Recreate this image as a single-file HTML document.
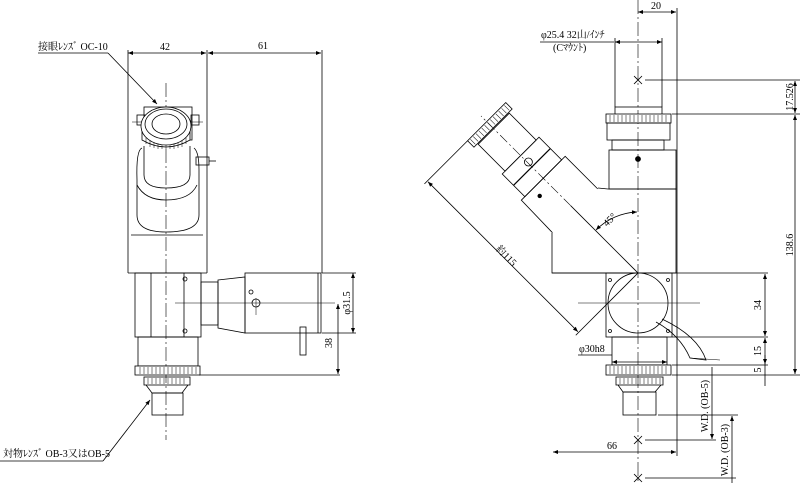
<!DOCTYPE html>
<html><head><meta charset="utf-8"><style>
html,body{margin:0;padding:0;background:#fff;}
svg{display:block;}
text{font-family:"Liberation Serif","Noto Serif CJK JP",serif;font-size:10px;fill:#000;}
</style></head><body>
<svg width="800" height="483" viewBox="0 0 800 483" xmlns="http://www.w3.org/2000/svg">
<defs>
<marker id="a" viewBox="0 0 10 10" refX="10" refY="5" markerWidth="7" markerHeight="5" orient="auto-start-reverse" markerUnits="userSpaceOnUse"><path d="M0,1 L10,5 L0,9 z" fill="#000"/></marker>
</defs>
<g stroke="#000" stroke-width="0.8" fill="none">
<!-- ===== LEFT VIEW ===== -->
<line x1="128" y1="50" x2="128" y2="273"/>
<line x1="207" y1="50" x2="207" y2="273"/>
<line x1="322" y1="50" x2="322" y2="273"/>
<line x1="128" y1="53" x2="206" y2="53" marker-start="url(#a)" marker-end="url(#a)"/>
<line x1="208" y1="53" x2="321" y2="53" marker-start="url(#a)" marker-end="url(#a)"/>
<line x1="128" y1="273" x2="207" y2="273"/>
<line x1="166" y1="83" x2="166" y2="440" stroke-dasharray="14 3 2 3" stroke-width="0.6"/>
<!-- eyepiece -->
<path d="M137,180 Q136,150 142,148"/>
<path d="M194,148 Q199,152 199,170 L199,215 Q199,232 166,232 Q137,232 137,215 L137,180"/>
<path d="M137,185 Q145,200 166,200 Q190,200 197,185"/>
<path d="M144,146 L144,175 Q144,188 166,188 Q190,188 190,175 L190,146"/>
<rect x="144" y="107" width="48" height="33"/>
<rect x="137" y="115" width="8" height="10"/>
<rect x="191" y="115" width="8" height="10"/>
<line x1="132" y1="122" x2="203" y2="122" stroke-width="0.5"/>
<path d="M142,130 L142,140 Q166,154 190,140 L190,130" fill="#fff"/>
<g stroke-width="0.5"><path d="M146,138 v6 M150,140 v7 M154,141 v7 M158,142 v7 M162,142 v7 M166,142 v7 M170,142 v7 M174,142 v7 M178,141 v7 M182,140 v7 M186,138 v6"/></g>
<ellipse cx="166" cy="126" rx="25" ry="19" fill="#fff"/>
<ellipse cx="166" cy="124" rx="21" ry="15"/>
<ellipse cx="166" cy="124" rx="14" ry="10"/>
<rect x="196" y="157" width="13" height="8"/>
<line x1="209" y1="161" x2="216" y2="161"/>
<line x1="131" y1="235" x2="203" y2="235"/>
<!-- lower block -->
<rect x="135" y="273" width="66" height="64"/>
<line x1="151" y1="273" x2="151" y2="337"/>
<line x1="184" y1="273" x2="184" y2="337"/>
<circle cx="185" cy="279" r="2"/><circle cx="185" cy="331" r="2"/>
<!-- side tube -->
<rect x="201" y="282" width="17" height="43"/>
<path d="M218,280 L245,277 L245,333 L218,328 Z"/>
<rect x="245" y="273" width="76" height="60"/>
<line x1="318" y1="273" x2="318" y2="333"/>
<circle cx="256" cy="303" r="4"/>
<circle cx="251" cy="292" r="2"/>
<line x1="175" y1="303" x2="335" y2="303" stroke-width="0.6"/>
<line x1="256" y1="298" x2="256" y2="315" stroke-width="0.5"/>
<rect x="300" y="327" width="6" height="28"/>
<line x1="353" y1="273" x2="353" y2="333" marker-start="url(#a)" marker-end="url(#a)"/>
<line x1="322" y1="273" x2="356" y2="273"/>
<line x1="322" y1="333" x2="356" y2="333"/>
<line x1="338" y1="304" x2="338" y2="374" marker-start="url(#a)" marker-end="url(#a)"/>
<line x1="199" y1="375" x2="340" y2="375"/>
<!-- lower tube -->
<rect x="138" y="337" width="60" height="29"/>
<rect x="135" y="366" width="65" height="9" fill="#fff"/>
<path d="M140,367 v7 M144,367 v7 M148,367 v7 M152,367 v7 M156,367 v7 M160,367 v7 M164,367 v7 M168,367 v7 M172,367 v7 M176,367 v7 M180,367 v7 M184,367 v7 M188,367 v7 M192,367 v7 M196,367 v7" stroke-width="0.5"/>
<rect x="144" y="377" width="46" height="8"/>
<path d="M148,378 v6 M152,378 v6 M156,378 v6 M160,378 v6 M164,378 v6 M168,378 v6 M172,378 v6 M176,378 v6 M180,378 v6 M184,378 v6" stroke-width="0.5"/>
<path d="M146,385 L152,393 L182,393 L188,385"/>
<rect x="152" y="393" width="31" height="22"/>
<!-- leaders -->
<line x1="38" y1="53" x2="108" y2="53"/>
<line x1="108" y1="53" x2="157" y2="104" marker-end="url(#a)"/>
<line x1="0" y1="461" x2="103" y2="461"/>
<line x1="103" y1="461" x2="150" y2="400" marker-end="url(#a)"/>

<!-- ===== RIGHT VIEW ===== -->
<line x1="638" y1="0" x2="638" y2="483" stroke-dasharray="14 3 2 3" stroke-width="0.6"/>
<line x1="677" y1="8" x2="677" y2="456"/>
<line x1="638" y1="12" x2="676" y2="12" marker-start="url(#a)" marker-end="url(#a)"/>
<line x1="540" y1="42" x2="614" y2="42"/>
<line x1="615" y1="42" x2="662" y2="42" marker-start="url(#a)" marker-end="url(#a)"/>
<line x1="615" y1="38" x2="615" y2="107"/>
<line x1="662" y1="38" x2="662" y2="107"/>
<path d="M634,76 l8,8 M642,76 l-8,8 M634,436 l8,8 M642,436 l-8,8 M634,474 l8,8 M642,474 l-8,8"/>
<line x1="645" y1="80" x2="800" y2="80"/>
<line x1="795" y1="81" x2="795" y2="113" marker-start="url(#a)" marker-end="url(#a)"/>
<line x1="795" y1="115" x2="795" y2="374" marker-start="url(#a)" marker-end="url(#a)"/>
<line x1="672" y1="114" x2="800" y2="114"/>
<!-- camera mount -->
<rect x="615" y="107" width="47" height="8"/>
<rect x="606" y="114" width="65" height="9" fill="#fff"/>
<path d="M610,115 v7 M614,115 v7 M618,115 v7 M622,115 v7 M626,115 v7 M630,115 v7 M634,115 v7 M638,115 v7 M642,115 v7 M646,115 v7 M650,115 v7 M654,115 v7 M658,115 v7 M662,115 v7 M666,115 v7" stroke-width="0.5"/>
<rect x="607" y="123" width="63" height="17"/>
<rect x="612" y="140" width="52" height="10"/>
<rect x="609" y="150" width="67" height="39"/>
<circle cx="638" cy="159" r="2.5" fill="#000"/>
<!-- housing -->
<path d="M598,188 L608,189 L676,189 L676,273 L552,273 L552,233"/>
<line x1="552" y1="273" x2="768" y2="273"/>
<!-- tilted eyepiece tube -->
<g transform="translate(638,273) rotate(-45)">
<path d="M-32,-89 L-31,-134 L31,-134 L31,-88"/>
<rect x="-26" y="-166" width="52" height="32"/>
<line x1="-26" y1="-150" x2="26" y2="-150" stroke-width="1.2"/>
<rect x="-22" y="-204" width="44" height="38"/>
<rect x="-27" y="-214" width="54" height="9" fill="#fff"/>
<path d="M-24,-213 v7 M-20,-213 v7 M-16,-213 v7 M-12,-213 v7 M-8,-213 v7 M-4,-213 v7 M0,-213 v7 M4,-213 v7 M8,-213 v7 M12,-213 v7 M16,-213 v7 M20,-213 v7 M24,-213 v7" stroke-width="0.5"/>
<line x1="0" y1="0" x2="0" y2="-95"/>
<line x1="0" y1="-95" x2="0" y2="-222" stroke-dasharray="10 3 2 3" stroke-width="0.6"/>
<circle cx="1" cy="-156" r="4"/>
<circle cx="-15" cy="-124" r="1.8" fill="#000"/>
<line x1="-27" y1="-214" x2="-88" y2="-214"/>
<line x1="0" y1="0" x2="-88" y2="0"/>
<line x1="-84" y1="-213" x2="-84" y2="-1" marker-start="url(#a)" marker-end="url(#a)"/>
</g>
<path d="M596,230 A61,61 0 0 1 637,212" marker-start="url(#a)" marker-end="url(#a)"/>
<!-- prism block -->
<rect x="606" y="273" width="66" height="64"/>
<circle cx="638" cy="303" r="30"/>
<circle cx="610" cy="280" r="1.5"/><circle cx="610" cy="331" r="1.5"/>
<circle cx="668" cy="280" r="1.5"/><circle cx="668" cy="331" r="1.5"/>
<line x1="578" y1="303" x2="700" y2="303" stroke-width="0.6"/>
<path d="M656,322 Q680,335 690,358 L706,360 Q698,336 662,319"/>
<line x1="690" y1="358" x2="720" y2="360" stroke-width="0.5"/>
<!-- lower tube right -->
<rect x="612" y="337" width="55" height="28"/>
<rect x="606" y="365" width="65" height="10" fill="#fff"/>
<path d="M610,366 v8 M614,366 v8 M618,366 v8 M622,366 v8 M626,366 v8 M630,366 v8 M634,366 v8 M638,366 v8 M642,366 v8 M646,366 v8 M650,366 v8 M654,366 v8 M658,366 v8 M662,366 v8 M666,366 v8" stroke-width="0.5"/>
<rect x="616" y="377" width="47" height="8"/>
<path d="M620,378 v6 M624,378 v6 M628,378 v6 M632,378 v6 M636,378 v6 M640,378 v6 M644,378 v6 M648,378 v6 M652,378 v6 M656,378 v6 M660,378 v6" stroke-width="0.5"/>
<path d="M618,385 L623,392 L655,392 L661,385"/>
<rect x="623" y="392" width="33" height="23"/>
<!-- dims right -->
<line x1="672" y1="337" x2="768" y2="337"/>
<line x1="672" y1="365" x2="768" y2="365"/>
<line x1="672" y1="375" x2="800" y2="375"/>
<line x1="765" y1="274" x2="765" y2="336" marker-start="url(#a)" marker-end="url(#a)"/>
<line x1="765" y1="338" x2="765" y2="364" marker-start="url(#a)" marker-end="url(#a)"/>
<line x1="765" y1="355" x2="765" y2="386"/>
<line x1="578" y1="355" x2="612" y2="355"/>
<line x1="612" y1="362" x2="667" y2="362" marker-start="url(#a)" marker-end="url(#a)"/>
<line x1="658" y1="415" x2="738" y2="415"/>
<line x1="645" y1="440" x2="716" y2="440"/>
<line x1="712" y1="367" x2="712" y2="439" marker-end="url(#a)"/>
<line x1="732" y1="416" x2="732" y2="483" marker-start="url(#a)"/>
<line x1="645" y1="478" x2="736" y2="478"/>
<line x1="553" y1="452" x2="676" y2="452" marker-start="url(#a)" marker-end="url(#a)"/>
</g>
<!-- text -->
<text x="38" y="50">接眼ﾚﾝｽﾞ  OC-10</text>
<text x="160" y="50">42</text>
<text x="258" y="49" font-size="11">61</text>
<text transform="translate(350,303) rotate(-90)" text-anchor="middle" font-size="11">φ31.5</text>
<text transform="translate(332,343) rotate(-90)" text-anchor="middle">38</text>
<text x="3" y="457">対物ﾚﾝｽﾞ  OB-3又はOB-5</text>
<text x="651" y="9">20</text>
<text x="541" y="38">φ25.4  32山/ｲﾝﾁ</text>
<text x="553" y="51">(Cﾏｳﾝﾄ)</text>
<text transform="translate(793,97) rotate(-90)" text-anchor="middle">17.526</text>
<text transform="translate(793,245) rotate(-90)" text-anchor="middle">138.6</text>
<text transform="translate(761,305) rotate(-90)" text-anchor="middle">34</text>
<text transform="translate(761,351) rotate(-90)" text-anchor="middle">15</text>
<text transform="translate(761,370) rotate(-90)" text-anchor="middle">5</text>
<text x="579" y="352">φ30h8</text>
<text transform="translate(708,406) rotate(-90)" text-anchor="middle">W.D. (OB-5)</text>
<text transform="translate(728,450) rotate(-90)" text-anchor="middle">W.D. (OB-3)</text>
<text x="607" y="449">66</text>
<text transform="translate(612,222) rotate(-45)" text-anchor="middle">45°</text>
<text transform="translate(504,258) rotate(45)" text-anchor="middle">約115</text>
</svg>
</body></html>
